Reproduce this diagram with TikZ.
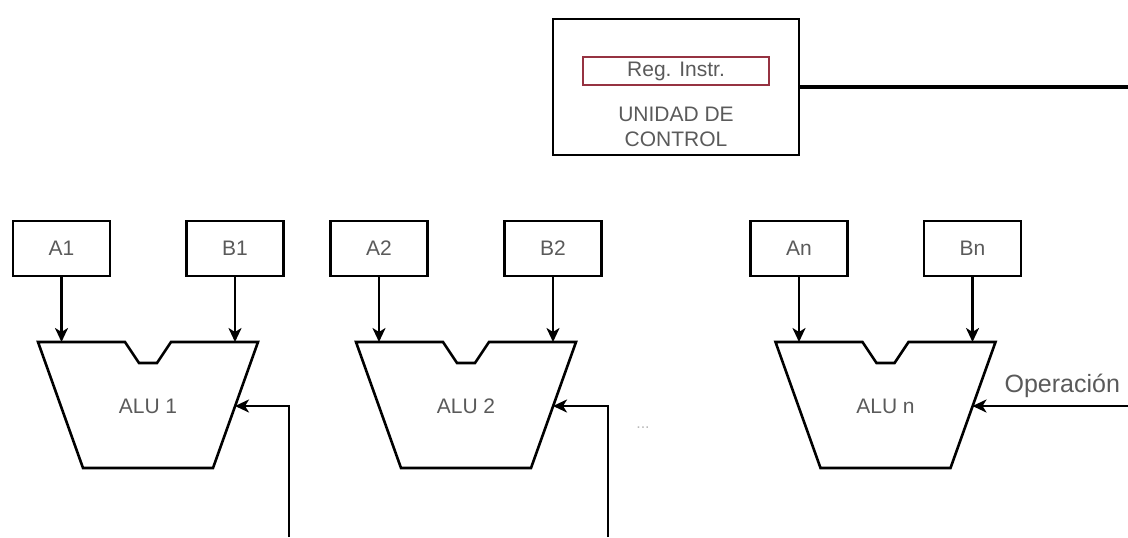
\documentclass[tikz,border=0pt]{standalone}
\usepackage{fontspec}
\setmainfont{Liberation Sans}
\usetikzlibrary{arrows.meta}
\definecolor{textgray}{RGB}{90,90,90}
\definecolor{regred}{RGB}{150,50,65}

\begin{document}
\begin{tikzpicture}[x=0.5pt, y=-0.5pt, line width=1.3pt, font=\fontsize{10.5}{12.5}\selectfont, text=textgray]
	\tikzstyle{reg} = [draw=black, minimum width=48.5pt, minimum height=27.5pt, inner sep=0pt]
	\tikzstyle{edge} = [-{Stealth[length=7pt,width=6.5pt,inset=2pt]}, line width=1.3pt]
	\useasboundingbox (0,0) rectangle (1128,537);

%----------Unidad de control------------------------------
	\node[draw=black, minimum width=123pt, minimum height=68pt] (uc) at (676,87) {};
	\node[draw=regred, minimum width=93pt, minimum height=14pt, inner sep=0pt] (ri) at (676,71) {Reg. Instr.};
	\node[align=center] (uctext) at (676,127) {UNIDAD DE\\CONTROL};
	\coordinate (ucbus) at (1128,87);
	\draw[line width=1.7pt] (uc.east) -- (ucbus);

%----------ALU 1------------------------------------------
	\node[reg] (a1) at (61.5,248.5) {A1};
	\node[reg] (b1) at (235,248.5) {B1};

	\draw[shift={(148,0)}] (-110,342) -- (-23,342) -- (-9,363) -- (9,363) -- (23,342) -- (110,342) -- (65,468) -- (-65,468) -- cycle;
	\node (alu1) at (148,406) {ALU 1};
	\coordinate (alu1top) at (148,342);
	\coordinate (alu1op) at (235,406);
	\coordinate (op1) at (289,537);

	\draw[edge] (a1.south) -- (a1.south |- alu1top);
	\draw[edge] (b1.south) -- (b1.south |- alu1top);
	\draw[edge] (op1) |- (alu1op);

%----------ALU 2------------------------------------------
	\node[reg] (a2) at (379,248.5) {A2};
	\node[reg] (b2) at (553,248.5) {B2};

	\draw[shift={(466,0)}] (-110,342) -- (-23,342) -- (-9,363) -- (9,363) -- (23,342) -- (110,342) -- (65,468) -- (-65,468) -- cycle;
	\node (alu2) at (466,406) {ALU 2};
	\coordinate (alu2top) at (466,342);
	\coordinate (alu2op) at (553,406);
	\coordinate (op2) at (608,537);

	\draw[edge] (a2.south) -- (a2.south |- alu2top);
	\draw[edge] (b2.south) -- (b2.south |- alu2top);
	\draw[edge] (op2) |- (alu2op);

	\node[font=\fontsize{8}{9}\selectfont, text=gray!55] (dots) at (643,428) {...};

%----------ALU n------------------------------------------
	\node[reg] (an) at (799,248.5) {An};
	\node[reg] (bn) at (972.5,248.5) {Bn};

	\draw[shift={(885.5,0)}] (-110,342) -- (-23,342) -- (-9,363) -- (9,363) -- (23,342) -- (110,342) -- (65,468) -- (-65,468) -- cycle;
	\node (alun) at (885.5,406) {ALU n};
	\coordinate (alunop) at (972.5,406);
	\coordinate (alutopn) at (885.5,342);
	\coordinate (opn) at (1128,406);

	\draw[edge] (an.south) -- (an.south |- alutopn);
	\draw[edge] (bn.south) -- (bn.south |- alutopn);
	\draw[edge] (opn) -- node[above, font=\fontsize{12.5}{14}\selectfont, xshift=6pt] {Operación} (alunop);

\end{tikzpicture}
\end{document}
